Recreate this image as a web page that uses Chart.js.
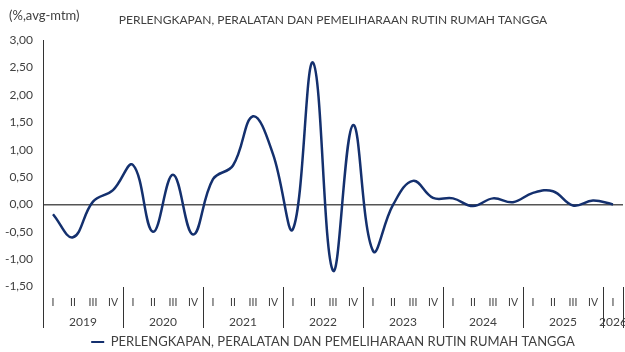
<!DOCTYPE html>
<html>
<head>
<meta charset="utf-8">
<script src="https://cdn.jsdelivr.net/npm/chart.js@4/dist/chart.umd.min.js"></script>
<style>
  html, body { margin: 0; padding: 0; background: #fff; }
  #wrap { width: 625px; height: 352px; }
</style>
</head>
<body>
<div id="wrap"><canvas id="chart-1"></canvas></div>
<script>
// ====== data ======
const years = ['2019', '2020', '2021', '2022', '2023', '2024', '2025', '2026'];
const quarterLabels = [
  'I', 'II', 'III', 'IV', 'I', 'II', 'III', 'IV', 'I', 'II', 'III', 'IV',
  'I', 'II', 'III', 'IV', 'I', 'II', 'III', 'IV', 'I', 'II', 'III', 'IV',
  'I', 'II', 'III', 'IV', 'I'
];
const seriesName = 'PERLENGKAPAN, PERALATAN DAN PEMELIHARAAN RUTIN RUMAH TANGGA';
const values = [
  -0.18, -0.60, 0.05, 0.26, 0.72, -0.50, 0.54, -0.55,
  0.46, 0.71, 1.61, 0.92, -0.45, 2.59, -1.21, 1.45,
  -0.85, -0.01, 0.43, 0.12, 0.11, -0.03, 0.11, 0.04,
  0.21, 0.24, -0.02, 0.07, 0.00
];
const yTicks = [-1.5, -1.0, -0.5, 0, 0.5, 1.0, 1.5, 2.0, 2.5, 3.0];

const FONT = 'Lato, "Open Sans", sans-serif';
const TXT = '#404040';
const NAVY = '#14306e';

// tahun di bawah kuartal + satuan di pojok kiri atas
const extraText = {
  id: 'extraText',
  afterDraw(chart) {
    const c = chart.ctx;
    const x = chart.scales.x;
    c.save();
    c.fillStyle = TXT;
    c.font = '12px ' + FONT;
    c.textAlign = 'center';
    c.textBaseline = 'middle';
    years.forEach((yr, k) => {
      const first = k * 4;
      const last = Math.min(first + 3, quarterLabels.length - 1);
      const cx = (x.getPixelForValue(first) + x.getPixelForValue(last)) / 2;
      c.fillText(yr, cx, x.top + 36);
    });
    c.textAlign = 'left';
    c.font = '13px ' + FONT;
    c.fillText('(%,avg-mtm)', 9, 16);
    c.restore();
  }
};

const ctx1 = document.getElementById('chart-1');

new Chart(ctx1, {
  type: 'line',
  data: {
    labels: quarterLabels,
    datasets: [{
      label: seriesName,
      data: values,
      borderColor: NAVY,
      backgroundColor: NAVY,
      borderWidth: 2.5,
      pointRadius: 0,
      tension: 0.4,
      fill: false
    }]
  },
  options: {
    responsive: true,
    maintainAspectRatio: false,
    animation: false,
    layout: { padding: { left: 0, right: 2, top: 0, bottom: -6.5 } },
    plugins: {
      title: {
        display: true,
        text: seriesName,
        fullSize: false,
        color: TXT,
        font: { family: FONT, size: 12, weight: 'normal' },
        padding: { top: 13, bottom: 12.8 }
      },
      legend: {
        position: 'bottom',
        fullSize: false,
        labels: {
          color: TXT,
          font: { family: FONT, size: 13 },
          boxWidth: 13,
          boxHeight: 2,
          padding: 7.5,
          // garis legenda tipis, tanpa border
          generateLabels: (chart) =>
            Chart.defaults.plugins.legend.labels.generateLabels(chart)
              .map(l => Object.assign(l, { lineWidth: 0 }))
        }
      },
      tooltip: { enabled: false }
    },
    scales: {
      x: {
        offset: true,
        afterFit: (s) => { s.height = 41.5; },
        border: { display: false },
        grid: {
          offset: true,
          drawOnChartArea: false,
          tickLength: 41.5,
          lineWidth: 1,
          color: (c) => (c.index === undefined || c.index % 4 === 0) ? '#333' : 'rgba(0,0,0,0)'
        },
        ticks: {
          color: TXT,
          font: { family: FONT, size: 10.5 },
          padding: -32,
          maxRotation: 0,
          autoSkip: false
        }
      },
      y: {
        min: -1.5,
        max: 3,
        afterFit: (s) => { s.width = 43; },
        afterBuildTicks: (s) => { s.ticks = yTicks.map(v => ({ value: v })); },
        border: { display: true, color: '#333', width: 1 },
        grid: {
          drawTicks: false,
          color: (c) => c.tick && c.tick.value === 0 ? '#555' : 'rgba(0,0,0,0)',
          lineWidth: 1.5
        },
        ticks: {
          color: TXT,
          font: { family: FONT, size: 12 },
          padding: 10,
          callback: (v) => v.toFixed(2).replace('.', ',')
        }
      }
    }
  },
  plugins: [extraText]
});
</script>
</body>
</html>
